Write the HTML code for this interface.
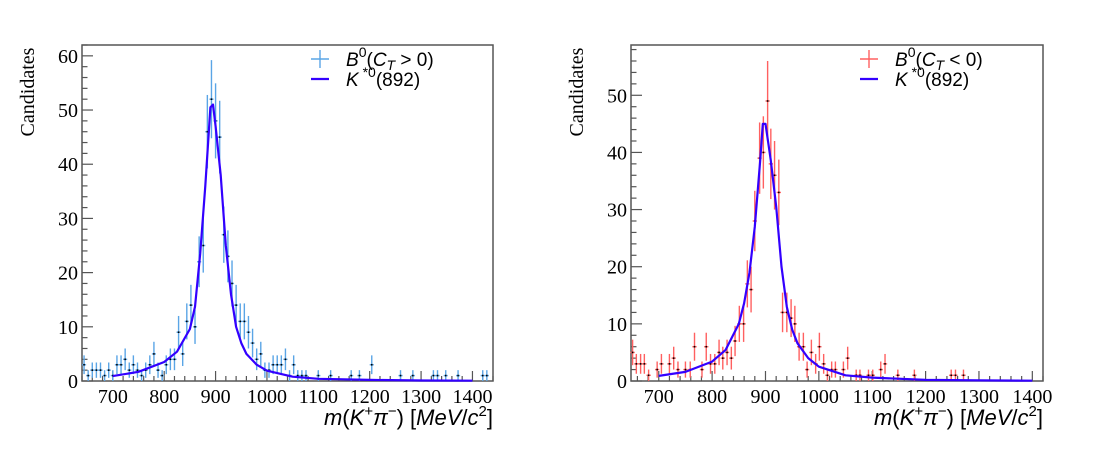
<!DOCTYPE html>
<html><head><meta charset="utf-8"><style>
html,body{margin:0;padding:0;background:#fff;}
svg{display:block;}
.tk{font-family:"Liberation Serif",serif;font-size:20px;fill:#000;}
.ti{font-family:"Liberation Sans",sans-serif;font-size:22px;fill:#000;}
.lg{font-family:"Liberation Sans",sans-serif;font-size:19px;fill:#000;}
</style></head><body>
<svg id="chart" width="1098" height="450" viewBox="0 0 1098 450" xmlns="http://www.w3.org/2000/svg"></svg>
<script>
// ---- Left panel data (C_T > 0), bins 8 MeV centered at 644+8k ----
const leftMass = [644,652,660,668,676,684,692,700,708,716,724,732,740,748,756,764,772,780,788,796,804,812,820,828,836,844,852,860,868,876,884,892,900,908,916,924,932,940,948,956,964,972,980,988,996,1004,1012,1020,1028,1036,1044,1052,1060,1068,1076,1100,1124,1164,1180,1204,1260,1284,1324,1332,1348,1372,1420,1428];
const leftCounts = [3,1,2,2,2,1,2,1,3,3,4,2,3,2,1,2,3,5,2,1,3,4,4,9,5,11,14,10,22,25,46,52,48,45,27,23,18,14,11,11,9,7,4,5,2,2,3,3,3,4,1,3,1,1,1,1,1,1,1,3,1,1,1,1,1,1,1,1];
// ---- Right panel data (C_T < 0) ----
const rightMass = [651,658,666,673,681,697,705,720,728,736,750,759,767,781,789,797,805,813,820,828,836,843,851,859,866,873,880,889,896,904,910,917,925,932,940,948,955,963,971,978,986,994,1001,1009,1016,1024,1031,1046,1054,1070,1077,1093,1101,1116,1124,1148,1179,1248,1256,1271];
const rightCounts = [5,3,3,3,1,2,3,3,4,2,2,2,6,2,6,3,3,5,4,5,4,7,10,10,17,16,28,39,40,49,38,36,33,12,12,11,10,6,6,2,5,3,6,3,1,2,2,2,4,1,1,1,1,2,3,1,1,1,1,1];
// ---- Fit curves (K*0(892)) ----
const fitMass = [700,750,800,825,850,860,870,880,890,895,900,910,920,930,940,950,960,980,1000,1050,1100,1200,1300,1400];
const leftFit = [0.9,1.7,3.5,5.4,9.6,13.7,23.5,36,50.5,51,47,38,25,16,10,7,5,3,1.9,0.8,0.4,0.2,0.1,0.05];
const rightFit = [0.9,1.6,3.4,5.4,10,13.6,19,27,38.6,45,45,38.6,30.5,20,13,9,6.6,4,2.5,1,0.6,0.2,0.1,0.05];
const xTicks = [700,800,900,1000,1100,1200,1300,1400];
const leftYTicks = [0,10,20,30,40,50,60];
const rightYTicks = [0,10,20,30,40,50];

const NS = 'http://www.w3.org/2000/svg';
const svg = document.getElementById('chart');
function mk(tag, attrs, parent){
  const e = document.createElementNS(NS, tag);
  for (const k in attrs) e.setAttribute(k, attrs[k]);
  (parent||svg).appendChild(e);
  return e;
}

function panel(cfg){
  const g = mk('g', {});
  
  
  const {L,R,T,B,xmin,xmax,ymin,ymax} = cfg;
  const X = m => L + (m - xmin) / (xmax - xmin) * (R - L);
  const Y = v => B - (v - ymin) / (ymax - ymin) * (B - T);
  const fr = mk('rect', {x:L, y:T, width:R-L, height:B-T, fill:'none', stroke:'#555', 'stroke-width':1.5}, g);
  
  
  for (let m = Math.ceil(xmin/20)*20; m <= xmax; m += 20) {
    const major = m % 100 === 0;
    const t = mk('line', {x1:X(m), x2:X(m), y1:B, y2:B-(major?10:5), stroke:'#555', 'stroke-width':1.2}, g);
    
    
  }
  xTicks.forEach(m => {
    const t = mk('text', {x:X(m), y:B+22, 'text-anchor':'middle', class:'tk'}, g);
    t.textContent = m;
    
    
  });
  for (let v = 0; v <= ymax; v += 2) {
    const major = v % 10 === 0;
    const t = mk('line', {x1:L, x2:L+(major?11:5.5), y1:Y(v), y2:Y(v), stroke:'#555', 'stroke-width':1.2}, g);
    
    
  }
  cfg.yTicks.forEach(v => {
    const t = mk('text', {x:L-4, y:Y(v)+7, 'text-anchor':'end', class:'tk'}, g);
    t.textContent = v;
    
    
  });
  const yt = mk('text', {x:0, y:0, transform:`translate(${L-48},${T+47}) rotate(-90)`, 'text-anchor':'middle', class:'tk'}, g);
  yt.textContent = 'Candidates';
  
  
  const xt = mk('text', {x:R, y:B+44, 'text-anchor':'end', class:'ti'}, g);
  xt.innerHTML = '<tspan font-style="italic">m</tspan>(<tspan font-style="italic">K</tspan><tspan dy="-9" font-size="15">+</tspan><tspan dy="9" font-style="italic">π</tspan><tspan dy="-9" font-size="15">−</tspan><tspan dy="9">) [</tspan><tspan font-style="italic">MeV</tspan>/<tspan font-style="italic">c</tspan><tspan dy="-9" font-size="15">2</tspan><tspan dy="9">]</tspan>';
  
  
  cfg.mass.forEach((m, i) => {
    const n = cfg.counts[i];
    if (n <= 0) return;
    const e = Math.sqrt(n);
    const pg = mk('g', {}, g);
    
    
    mk('line', {x1:X(m), x2:X(m), y1:Y(Math.min(n+e, ymax)), y2:Y(Math.max(n-e,0)), stroke:cfg.color, 'stroke-width':1.4}, pg);
    mk('line', {x1:X(m-4), x2:X(m+4), y1:Y(n), y2:Y(n), stroke:cfg.color, 'stroke-width':1.4}, pg);
    mk('rect', {x:X(m)-0.8, y:Y(n)-0.8, width:1.6, height:1.6, fill:'#000'}, pg);
  });
  const d = fitMass.map((m, i) => (i ? 'L' : 'M') + X(m).toFixed(1) + ',' + Y(cfg.fit[i]).toFixed(1)).join(' ');
  const fc = mk('path', {d, fill:'none', stroke:'#3300ff', 'stroke-width':2.2, 'stroke-linejoin':'round'}, g);
  
  
  const lg = mk('g', {}, g);
  
  
  const lx = cfg.legX;
  mk('line', {x1:lx-9, x2:lx+9, y1:59, y2:59, stroke:cfg.color, 'stroke-width':1.4}, lg);
  mk('line', {x1:lx, x2:lx, y1:50, y2:68, stroke:cfg.color, 'stroke-width':1.4}, lg);
  mk('line', {x1:lx-9, x2:lx+9, y1:79, y2:79, stroke:'#3300ff', 'stroke-width':2.2}, lg);
  const t1 = mk('text', {x:lx+26, y:66, class:'lg'}, lg);
  t1.innerHTML = '<tspan font-style="italic">B</tspan><tspan dy="-9" font-size="14">0</tspan><tspan dy="9">(</tspan><tspan font-style="italic">C</tspan><tspan dy="4" font-size="14" font-style="italic">T</tspan><tspan dy="-4"> ' + cfg.sign + ' 0)</tspan>';
  
  
  const t2 = mk('text', {x:lx+26, y:86, class:'lg'}, lg);
  t2.innerHTML = '<tspan font-style="italic">K</tspan><tspan dy="-9" font-size="14"> *0</tspan><tspan dy="9">(892)</tspan>';
  
  
}

panel({name:'left-panel', L:82, R:493, T:45, B:381, xmin:640, xmax:1440, ymin:0, ymax:62,
  mass:leftMass, counts:leftCounts, fit:leftFit, color:'#5aa5e6', yTicks:leftYTicks, legX:320, sign:'>'});
panel({name:'right-panel', L:631, R:1043, T:45, B:381, xmin:648, xmax:1420, ymin:0, ymax:58.8,
  mass:rightMass, counts:rightCounts, fit:rightFit, color:'#ff6060', yTicks:rightYTicks, legX:869, sign:'<'});
</script>
</body></html>
